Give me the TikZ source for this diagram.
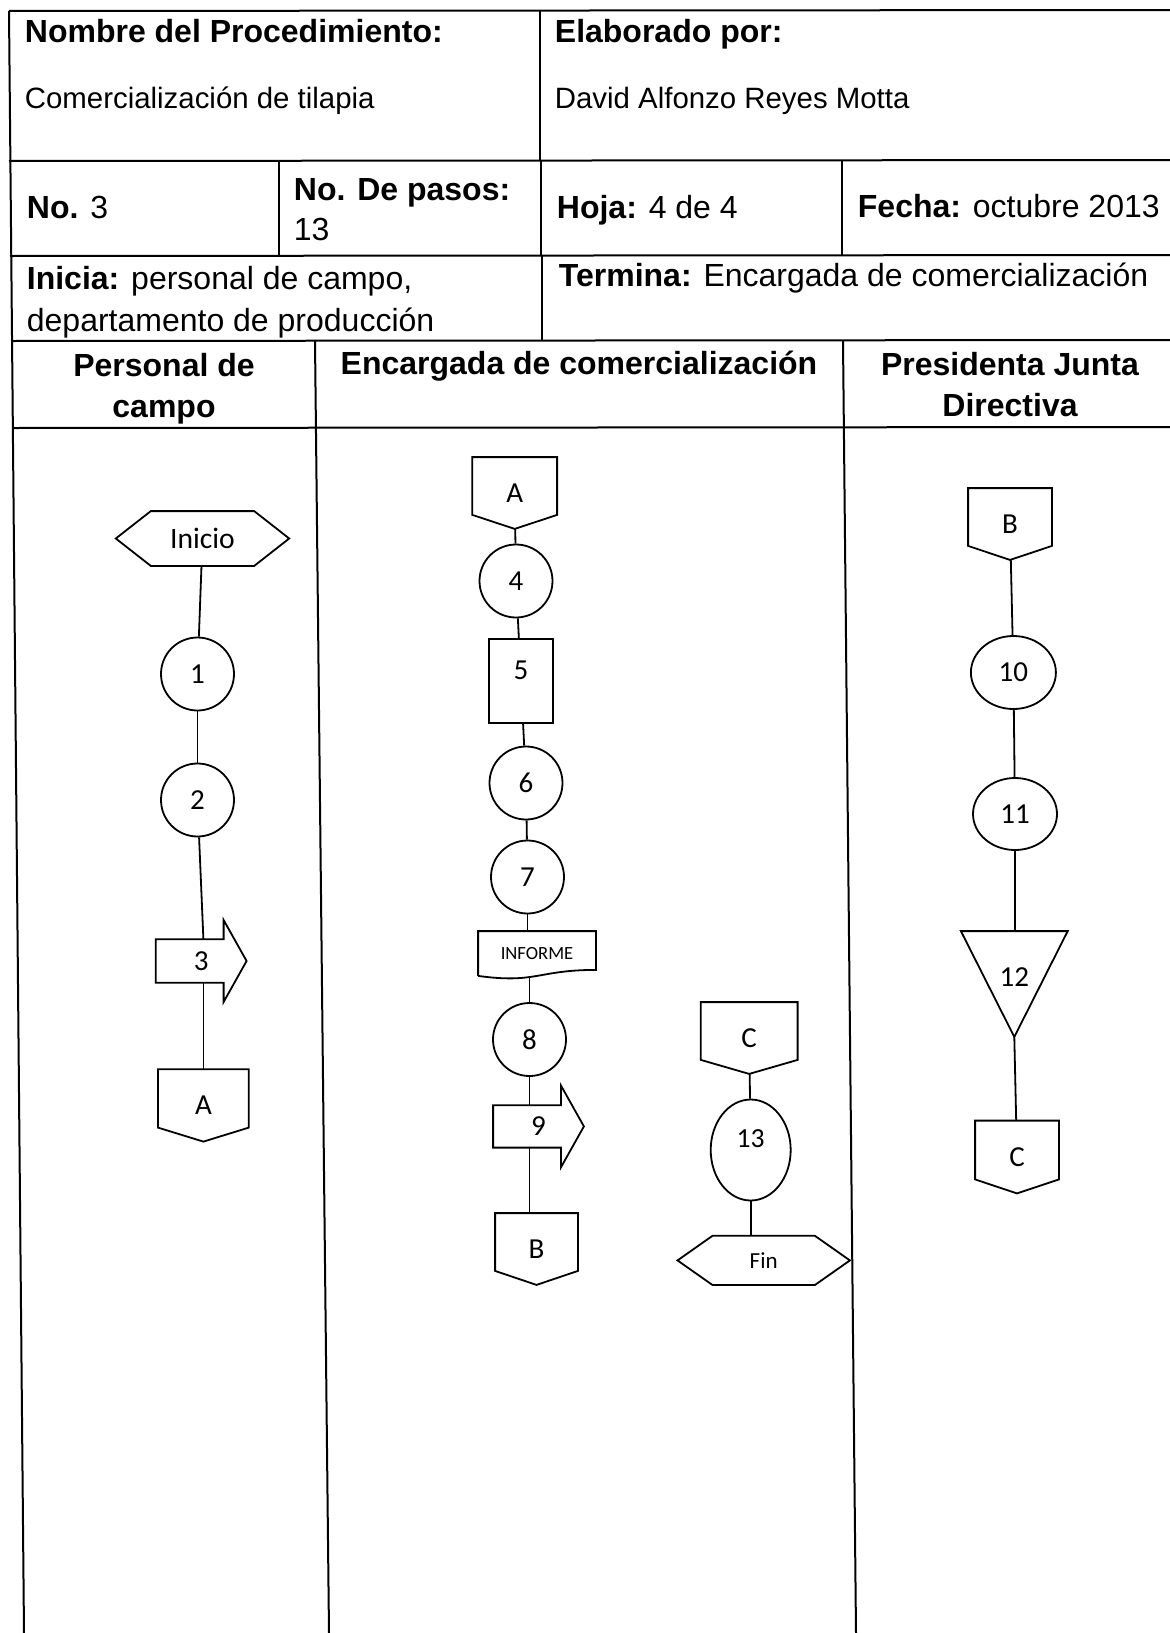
\documentclass[tikz,border=0pt]{standalone}
\usepackage{fontspec}
\setmainfont{Liberation Sans}
\newfontfamily\calib{Carlito}
\usetikzlibrary{%
  positioning
 ,shapes.geometric
}
\tikzstyle{hoja}=[x=0.5pt,y=-0.5pt,line width=0.9pt]
\tikzstyle{tab}=[line width=1pt]
\tikzstyle{txt}=[anchor=base west,inner sep=0pt,align=left,font=\fontsize{16}{21}\selectfont]
\tikzstyle{txtc}=[txt,font=\fontsize{14.7}{18}\selectfont]
\tikzstyle{enc}=[anchor=base,inner sep=0pt,align=center,font=\fontsize{16}{20.5}\selectfont\bfseries]
\tikzstyle{fc}=[inner sep=0pt,font=\calib\fontsize{14.5}{17}\selectfont]
\tikzstyle{paso}=[fc,circle,draw,minimum size=36.5pt]
\tikzstyle{elip}=[fc,ellipse,draw]
\tikzstyle{caja}=[fc,rectangle,draw]
\tikzstyle{marco}=[fc,rectangle]
% contornos sobre los marcos
\newcommand{\conec}[1]{\draw (#1.north west) -- (#1.north east) -- ([yshift=7pt]#1.south east)
  -- (#1.south) -- ([yshift=7pt]#1.south west) -- cycle;}
\newcommand{\flech}[1]{\draw (#1.east) -- ([xshift=-11.5pt,yshift=20.5pt]#1.east)
  -- ([xshift=-11.5pt]#1.north east) -- (#1.north west) -- (#1.south west)
  -- ([xshift=-11.5pt]#1.south east) -- ([xshift=-11.5pt,yshift=-20.5pt]#1.east) -- cycle;}
\newcommand{\hexa}[1]{\draw (#1.west) -- ([xshift=17.5pt]#1.north west) -- ([xshift=-17.5pt]#1.north east)
  -- (#1.east) -- ([xshift=-17.5pt]#1.south east) -- ([xshift=17.5pt]#1.south west) -- cycle;}
\newcommand{\tria}[1]{\draw (#1.north west) -- (#1.north east) -- (#1.south) -- cycle;}

\begin{document}
\begin{tikzpicture}[hoja]
\useasboundingbox (0,0) rectangle (1170,1633);
% tabla
\draw[tab] (9,11) -- (1170,10) (9,161) -- (1170,160) (10,256) -- (1170,255)
  (11,341) -- (1170,340) (13,428) -- (1170,427);
\draw[tab] (9,11) -- (24,1633);
\draw[tab] (540,11) -- (540,161) (279,161) -- (279,256) (541,161) -- (541,256)
  (842,161) -- (842,256) (542,256) -- (542,341);
\draw[tab] (315,341) -- (329,1633) (843,341) -- (856,1633);

\node[txt] (nom) at (24,42) {\textbf{Nombre del Procedimiento:}};
\node[txtc] (nomv) at (24,108) {Comercialización de tilapia};
\node[txt] (ela) at (554,42) {\textbf{Elaborado por:}};
\node[txtc] (elav) at (554,108) {David Alfonzo Reyes Motta};
\node[txt] (num) at (26,218) {\textbf{No.} 3};
\node[txt] (pas) at (293,240) {\textbf{No. De pasos:}\\[-1pt]13};
\node[txt] (hoj) at (556,218) {\textbf{Hoja:} 4 de 4};
\node[txt] (fec) at (857,217) {\textbf{Fecha:} octubre 2013};
\node[txt] (ini) at (26,331) {\textbf{Inicia:} personal de campo,\\departamento de producción};
\node[txt] (ter) at (558,286) {\textbf{Termina:} Encargada de comercialización};
\node[enc] (l_1) at (164,417) {Personal de\\campo};
\node[enc] (l_2) at (579,374) {Encargada de comercialización};
\node[enc] (l_3) at (1010,416) {Presidenta Junta\\Directiva};

% personal de campo
\node[marco,minimum width=85.8pt,minimum height=26.5pt,font=\calib\fontsize{14.8}{17}\selectfont] (s_i) at (202.5,538.5) {Inicio};
\node[paso] (p_1) at (197.5,674) {1};
\node[paso] (p_2) at (197.5,800) {2};
\node[marco,minimum width=44.5pt,minimum height=20.8pt] (p_3) at (201.2,961) {3};
\node[marco,minimum width=44.5pt,minimum height=35.3pt] (c_A1) at (203.4,1105.4) {A};
% encargada de comercializacion
\node[marco,minimum width=41.5pt,minimum height=35pt] (c_A2) at (514.7,493) {A};
\node[paso] (p_4) at (516,581) {4};
\node[caja,minimum width=32pt,minimum height=42pt] (p_5) at (521,681) {\raisebox{11pt}{5}};
\node[paso] (p_6) at (526,783) {6};
\node[paso] (p_7) at (527.5,877) {7};
\node[marco,minimum width=58pt,minimum height=21.5pt,font=\calib\fontsize{9.3}{11}\selectfont] (d_i) at (537,953.5) {INFORME};
\node[paso] (p_8) at (529.5,1039.5) {8};
\node[marco,minimum width=44.5pt,minimum height=20.3pt] (p_9) at (538.5,1126.4) {9};
\node[marco,minimum width=40.5pt,minimum height=35pt] (c_B1) at (536.5,1249) {B};
\node[marco,minimum width=47.5pt,minimum height=35pt] (c_C1) at (749.2,1038) {C};
\node[elip,minimum width=40pt,minimum height=50.5pt,font=\calib\fontsize{13.8}{16}\selectfont] (p_13) at (750.7,1150) {\raisebox{11pt}{13}};
\node[marco,minimum width=85.3pt,minimum height=23.7pt,font=\calib\fontsize{11.5}{14}\selectfont] (s_f) at (763.7,1260.4) {Fin};
% presidenta junta directiva
\node[marco,minimum width=41pt,minimum height=35pt] (c_B2) at (1010,524) {B};
\node[elip,minimum width=42.5pt,minimum height=36.5pt] (p_10) at (1013.4,672.5) {10};
\node[elip,minimum width=42pt,minimum height=36pt] (p_11) at (1015,814) {11};
\node[marco,minimum width=52.5pt,minimum height=52pt] (p_12) at (1014.3,984) {\raisebox{7pt}{12}};
\node[marco,minimum width=41pt,minimum height=35.5pt] (c_C2) at (1017,1157) {C};

\hexa{s_i} \hexa{s_f}
\flech{p_3} \flech{p_9}
\conec{c_A1} \conec{c_A2} \conec{c_B1} \conec{c_C1} \conec{c_B2} \conec{c_C2}
\tria{p_12}
\draw (d_i.south west) -- (d_i.north west) -- (d_i.north east) -- ([yshift=3pt]d_i.south east)
  .. controls +(-58,0) and +(58,8) .. (d_i.south west);

\draw (s_i) -- (p_1);
\draw (p_1) -- (p_2);
\draw (p_2) -- (c_A1 |- p_3.north);
\draw (c_A1 |- p_3.south) -- (c_A1);
\draw (c_A2) -- (p_4);
\draw (p_4) -- (p_5);
\draw (p_5) -- (p_6);
\draw (p_6) -- (p_7);
\draw (p_7) -- (p_7 |- d_i.north);
\draw (p_8 |- d_i.south) -- (p_8);
\draw (p_8) -- (p_8 |- p_9.north);
\draw (p_8 |- p_9.south) -- (p_8 |- c_B1.north);
\draw (c_C1) -- (p_13);
\draw (p_13) -- (p_13 |- s_f.north);
\draw (c_B2) -- (p_10);
\draw (p_10) -- (p_11);
\draw (p_11) -- (p_11 |- p_12.north);
\draw (p_12.south) -- (c_C2);
\end{tikzpicture}
\end{document}
